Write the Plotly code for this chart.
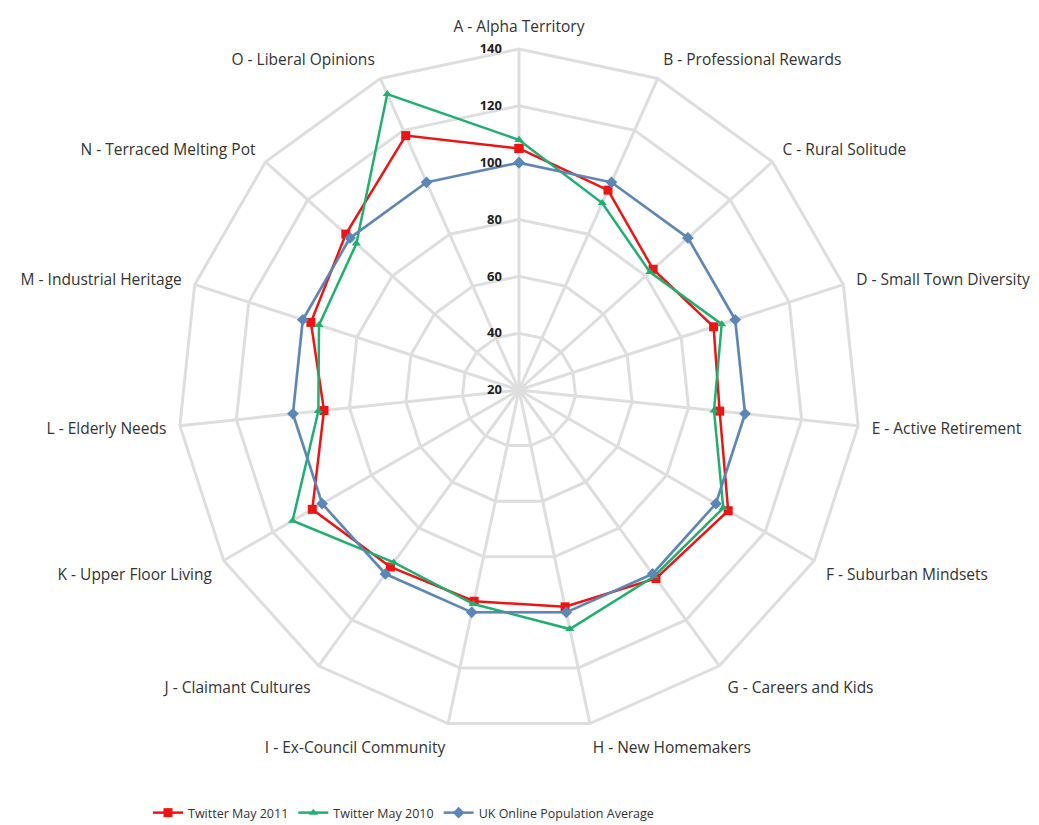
import plotly.graph_objects as go

categories = ["A - Alpha Territory", "B - Professional Rewards", "C - Rural Solitude",
              "D - Small Town Diversity", "E - Active Retirement", "F - Suburban Mindsets",
              "G - Careers and Kids", "H - New Homemakers", "I - Ex-Council Community",
              "J - Claimant Cultures", "K - Upper Floor Living", "L - Elderly Needs",
              "M - Industrial Heritage", "N - Terraced Melting Pot", "O - Liberal Opinions"]
twitter_2011 = [105, 97, 83.5, 92, 91, 105, 102, 98, 96, 97, 104, 89, 97, 102, 118]
twitter_2010 = [108, 92, 82, 95, 89, 103, 101, 106, 97, 95, 112, 91, 94, 97, 134]
uk_average = [100] * 15
radial_ticks = [20, 40, 60, 80, 100, 120, 140]

def closed(v):
    return list(v) + [v[0]]

theta = closed(categories)
fig = go.Figure()
fig.add_trace(go.Scatterpolar(r=closed(twitter_2011), theta=theta, mode="lines+markers",
                              name="Twitter May 2011",
                              line=dict(color="#ee1414", width=2.5),
                              marker=dict(symbol="square", size=9, color="#ee1414")))
fig.add_trace(go.Scatterpolar(r=closed(twitter_2010), theta=theta, mode="lines+markers",
                              name="Twitter May 2010",
                              line=dict(color="#1fb070", width=2.5),
                              marker=dict(symbol="triangle-up", size=8, color="#1fb070")))
fig.add_trace(go.Scatterpolar(r=closed(uk_average), theta=theta, mode="lines+markers",
                              name="UK Online Population Average",
                              line=dict(color="#5b86b8", width=2.5),
                              marker=dict(symbol="diamond", size=9, color="#5b86b8")))

W, H = 1039, 825
cx, cy, R = 511, 382, 341
fig.update_layout(
    width=W, height=H,
    paper_bgcolor="white", plot_bgcolor="white",
    margin=dict(l=0, r=0, t=0, b=0, autoexpand=False),
    font=dict(family="Open Sans, sans-serif", color="#333"),
    polar=dict(
        domain=dict(x=[(cx - R) / W, (cx + R) / W], y=[1 - (cy + R) / H, 1 - (cy - R) / H]),
        bgcolor="white",
        gridshape="linear",
        radialaxis=dict(range=[20, 140], tickvals=radial_ticks, angle=90, tickangle=90,
                        side="counterclockwise",
                        showline=False, gridcolor="#dedede", gridwidth=3,
                        ticks="outside", ticklen=12, tickcolor="rgba(0,0,0,0)",
                        tickfont=dict(size=13, color="#222", weight="bold")),
        angularaxis=dict(rotation=90, direction="clockwise", gridcolor="#dedede", gridwidth=3,
                         showline=True, linecolor="#dedede", linewidth=3,
                         ticks="outside", ticklen=9, tickcolor="rgba(0,0,0,0)",
                         tickfont=dict(size=15.5, color="#333")),
    ),
    legend=dict(orientation="h", x=140 / W, xanchor="left", y=20 / H, yanchor="middle",
                font=dict(size=12.5, color="#333"), itemwidth=30, bgcolor="rgba(0,0,0,0)"),
)
fig.write_html("out.html")
